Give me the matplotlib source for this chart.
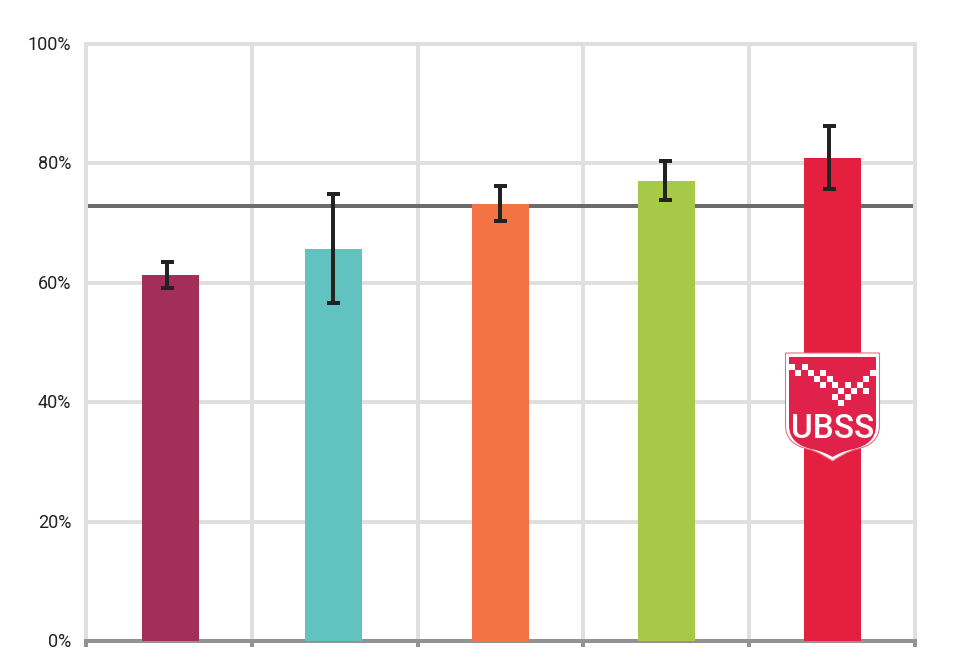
import matplotlib
matplotlib.use("Agg")
import matplotlib.pyplot as plt
from matplotlib.path import Path
from matplotlib.patches import PathPatch, Rectangle
from matplotlib.ticker import FuncFormatter
from matplotlib.transforms import ScaledTranslation

plt.rcParams['font.family'] = ['Roboto', 'DejaVu Sans']

# Data
bar_pos = [0.01, 0.99, 2.0, 3.0, 4.003]
err_pos = [-0.01, 0.99, 1.995, 2.995, 3.98]
values = [61.3, 65.7, 73.2, 77.1, 80.9]
err_high = [63.5, 74.9, 76.2, 80.4, 86.3]
err_low = [59.1, 56.6, 70.4, 73.9, 75.7]
colors = ['#a32e57', '#62c2c0', '#f37345', '#a6ca47', '#e5203f']
benchmark = 72.9
yticks = [0, 20, 40, 60, 80, 100]
boundaries = [-0.5, 0.5, 1.5, 2.5, 3.5, 4.5]

W, H = 980, 664
PX = 72 / 100
fig = plt.figure(figsize=(W / 100, H / 100), dpi=100, facecolor='white')
ax = fig.add_axes([86 / W, (H - 641) / H, (915 - 86) / W, (641 - 44) / H])

GRID = '#dfdfdd'
AXIS = '#939393'
ax.set_xlim(-0.5, 4.5)
ax.set_ylim(0, 100)
ax.set_axisbelow(True)
ax.grid(True, color=GRID, linewidth=4 * PX)
ax.set_xticks(boundaries)
ax.set_yticks(yticks)
ax.yaxis.set_major_formatter(FuncFormatter(lambda v, _: f"{v:.0f}%"))
ax.tick_params(axis='x', length=6 * PX, width=4 * PX, color=AXIS, labelbottom=False)
ax.tick_params(axis='y', length=0, pad=15 * PX, labelsize=13, labelcolor='#222222')
for label in ax.get_yticklabels():
    label.set_transform(label.get_transform() + ScaledTranslation(0, 1 / 100, fig.dpi_scale_trans))
for s in ('left', 'right', 'top'):
    ax.spines[s].set_color(GRID)
    ax.spines[s].set_linewidth(4 * PX)
ax.spines['bottom'].set_color(AXIS)
ax.spines['bottom'].set_linewidth(4 * PX)

ax.axhline(benchmark, color='#6b6b6b', linewidth=4 * PX, zorder=2)
ax.bar(bar_pos, values, width=0.344, color=colors, zorder=3)
yerr = [[v - l for v, l in zip(values, err_low)],
        [h - v for v, h in zip(values, err_high)]]
ax.errorbar(err_pos, values, yerr=yerr, fmt='none', ecolor='#222222',
            elinewidth=4 * PX, capsize=6.5 * PX, capthick=4 * PX, zorder=4)

# UBSS shield logo, drawn in figure pixel coordinates
logo = fig.add_axes([0, 0, 1, 1], facecolor='none')
logo.set_xlim(0, W)
logo.set_ylim(H, 0)
logo.axis('off')


def shield(l, r, t, side, tip):
    c = (l + r) / 2
    verts = [(l, t), (r, t), (r, side),
             (r, side + 15), (r - 10, side + 21), (r - 22, side + 24),
             (r - 32, side + 26), (c + 5, tip - 3), (c, tip),
             (c - 5, tip - 3), (l + 32, side + 26), (l + 22, side + 24),
             (l + 10, side + 21), (l, side + 15), (l, side), (l, t)]
    codes = [Path.MOVETO, Path.LINETO, Path.LINETO,
             Path.CURVE4, Path.CURVE4, Path.CURVE4,
             Path.CURVE4, Path.CURVE4, Path.CURVE4,
             Path.CURVE4, Path.CURVE4, Path.CURVE4,
             Path.CURVE4, Path.CURVE4, Path.CURVE4, Path.CLOSEPOLY]
    return Path(verts, codes)


logo.add_patch(PathPatch(shield(785.5, 879.5, 353, 425, 461), facecolor='white',
                         edgecolor='#ec6f80', linewidth=0.8))
logo.add_patch(PathPatch(shield(789, 876, 357, 425, 457), facecolor='#e0214a',
                         edgecolor='none'))
squares = [(792, 367), (804.7, 367), (798.3, 373.3), (811, 373.3), (817, 379.3),
           (823.3, 373.3), (829.7, 379.3), (823.3, 385.3), (835.3, 385), (847.7, 385),
           (860.3, 385), (866.3, 379), (872.7, 373), (841.3, 391.3), (853.7, 391.3),
           (866.3, 391.3), (835.3, 397.3), (847.7, 397.3), (841.3, 403.3)]
for x, y in squares:
    logo.add_patch(Rectangle((x - 3.1, y - 3.1), 6.2, 6.2, facecolor='white', edgecolor='none'))
logo.text(833, 425, 'UBSS', color='white', fontsize=24, fontweight='medium',
          ha='center', va='center_baseline', family=['Roboto', 'DejaVu Sans'])

fig.savefig('out.png', dpi=100, facecolor='white')
